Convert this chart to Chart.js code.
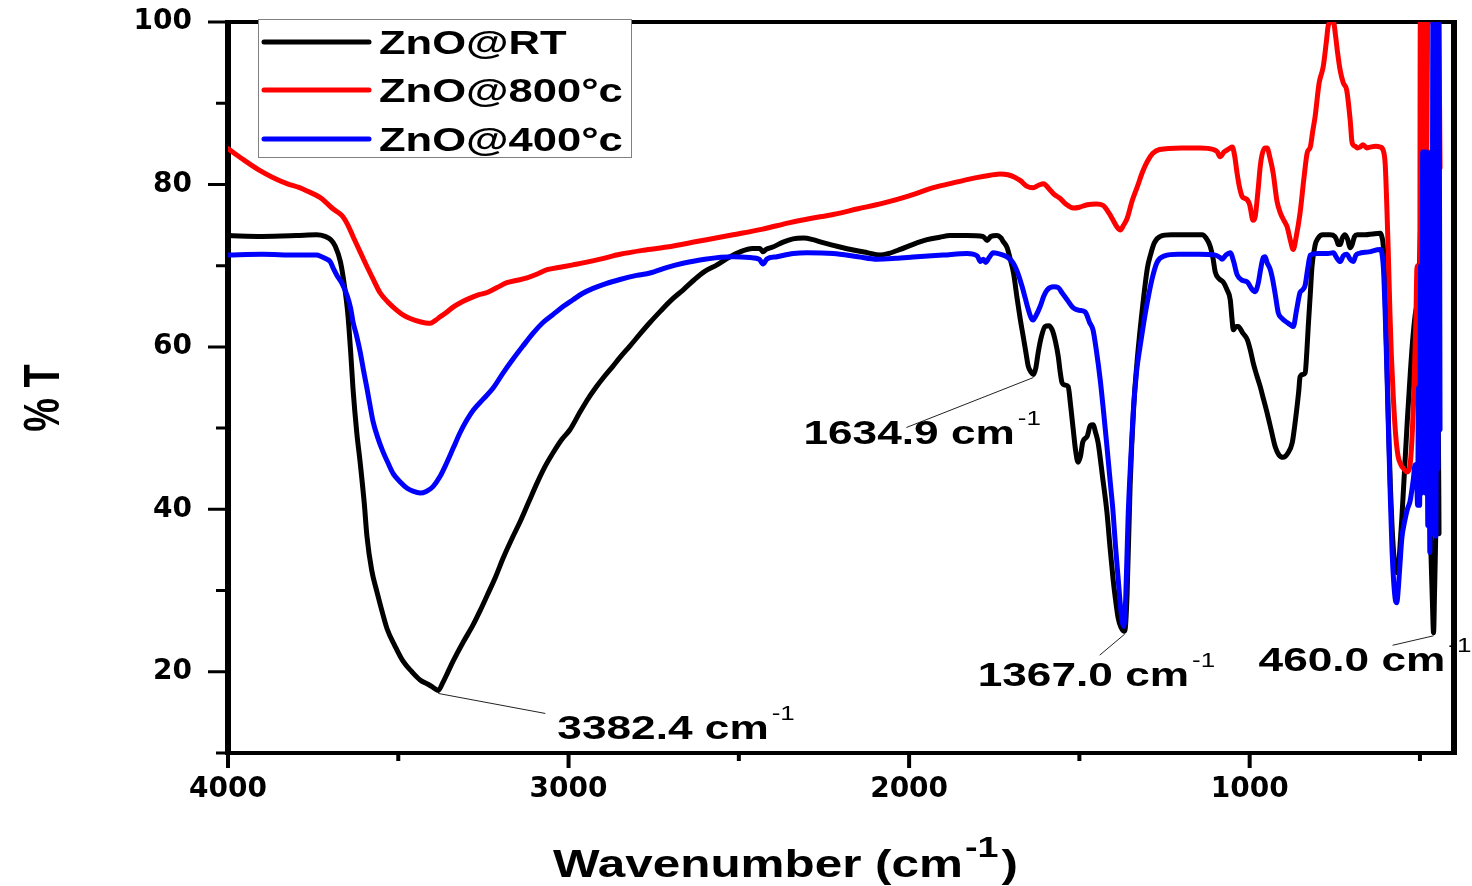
<!DOCTYPE html>
<html>
<head>
<meta charset="utf-8">
<title>FTIR spectra of ZnO</title>
<script src="https://cdn.jsdelivr.net/npm/chart.js@4.4.1/dist/chart.umd.min.js"></script>
<style>
  html, body { margin: 0; padding: 0; background: #ffffff; }
  canvas { display: block; }
</style>
</head>
<body>
<canvas id="ftir" width="1472" height="886"></canvas>
<script>
// ---- Spectra: [wavenumber (cm-1), transmittance (%)] ----
const rtSpectrum = [
  [4000,73.7],[3900,73.6],[3800,73.7],[3740,73.8],[3715,73.6],[3698,73.2],[3685,72.4],[3670,70.5],[3658,67.5],[3648,64.0],
  [3640,59.5],[3633,54.9],[3622,49.5],[3612,45.8],[3600,40.8],[3592,36.7],[3578,32.5],[3563,29.9],[3548,27.5],[3533,25.3],
  [3510,23.2],[3486,21.3],[3460,20.0],[3436,19.0],[3410,18.4],[3395,18.0],[3382.4,17.7],[3370,18.6],[3355,19.9],[3339,21.3],
  [3310,23.6],[3280,25.8],[3260,27.5],[3239,29.4],[3215,31.6],[3192,34.0],[3165,36.5],[3142,38.5],[3118,40.8],[3093,43.2],
  [3070,45.2],[3045,47.0],[3020,48.6],[2996,49.8],[2970,51.7],[2946,53.4],[2920,55.0],[2898,56.2],[2870,57.6],[2849,58.7],
  [2820,60.1],[2790,61.6],[2761,63.0],[2730,64.4],[2700,65.7],[2664,67.0],[2630,68.3],[2600,69.3],[2564,70.1],[2530,71.0],
  [2496,71.7],[2460,72.1],[2438,72.1],[2429,71.7],[2420,72.0],[2400,72.3],[2370,72.9],[2341,73.3],[2310,73.4],[2282,73.2],
  [2250,72.8],[2203,72.3],[2160,71.9],[2123,71.6],[2085,71.3],[2060,71.5],[2026,72.0],[1990,72.6],[1947,73.2],[1910,73.5],
  [1880,73.7],[1830,73.7],[1783,73.6],[1771,73.1],[1760,73.6],[1742,73.7],[1730,73.4],[1724,73.0],[1712,72.2],[1703,70.8],
  [1693,69.0],[1683,66.0],[1674,63.5],[1665,61.3],[1657,59.3],[1650,57.6],[1642,56.9],[1634.9,56.6],[1628,57.4],[1621,59.3],
  [1612,61.2],[1601,62.5],[1590,62.6],[1580,62.1],[1570,60.6],[1562,58.8],[1556,56.8],[1551,55.6],[1542,55.3],[1533,55.1],
  [1525,52.5],[1518,49.8],[1511,47.2],[1504,45.8],[1497,46.5],[1490,48.3],[1477,49.0],[1468,50.3],[1460,50.4],[1452,49.4],
  [1445,48.2],[1432,44.0],[1419,39.6],[1410,35.3],[1401,31.4],[1393,28.6],[1386,26.6],[1378,25.5],[1367.0,25.0],[1360,29.5],
  [1351,43.0],[1340,53.0],[1330,58.5],[1313,65.5],[1300,69.8],[1292,71.2],[1280,72.8],[1263,73.6],[1230,73.8],[1200,73.8],
  [1160,73.8],[1140,73.8],[1128,73.4],[1116,72.4],[1108,71.0],[1101,69.2],[1090,68.4],[1078,68.0],[1066,67.0],[1057,65.8],
  [1052,63.5],[1048,62.1],[1040,62.5],[1034,62.5],[1020,61.7],[1007,60.9],[998,59.6],[990,58.1],[980,56.6],[969,55.1],
  [959,53.5],[949,51.9],[937,49.8],[925,47.7],[914,46.7],[902,46.4],[888,46.9],[875,48.2],[868,50.2],[861,52.6],
  [856,54.5],[852,56.3],[844,56.6],[837,56.8],[832,59.5],[828,62.5],[822,66.5],[817,69.9],[808,72.5],[799,73.4],
  [785,73.8],[764,73.8],[750,73.6],[743,73.0],[740,72.6],[734,72.6],[728,73.4],[720,73.8],[712,73.2],[705,72.2],
  [699,72.6],[692,73.6],[684,73.8],[660,73.8],[640,73.9],[617,74.0],[612,73.6],[607,72.0],[602,66.0],[597,58.0],
  [592,50.0],[587,43.0],[582,38.0],[576,34.0],[570,32.4],[565,32.2],[560,34.5],[553,39.0],[545,45.0],[537,51.0],
  [528,57.0],[520,61.5],[512,64.5],[505,66.0],[498,75.0],[492,85.0],[486,70.0],[480,60.0],[474,45.0],[468,35.0],
  [463,28.0],[460.0,24.8],[457,30.0],[453,38.0],[449,45.0],[446,49.8],[444,37.0]
];

const c800Spectrum = [
  [4000,84.4],[3960,83.2],[3906,81.7],[3870,80.9],[3827,80.1],[3790,79.6],[3768,79.2],[3730,78.4],[3710,77.7],[3692,77.0],
  [3675,76.5],[3662,76.0],[3648,75.0],[3633,73.6],[3612,71.7],[3592,69.9],[3572,68.2],[3554,66.7],[3530,65.5],[3504,64.5],
  [3485,63.9],[3465,63.5],[3436,63.1],[3407,62.9],[3390,63.3],[3377,63.7],[3360,64.2],[3339,64.9],[3315,65.5],[3289,66.0],
  [3265,66.4],[3239,66.7],[3210,67.3],[3181,67.9],[3150,68.2],[3122,68.5],[3090,69.0],[3063,69.5],[3025,69.8],[2987,70.1],
  [2950,70.4],[2907,70.8],[2849,71.4],[2780,71.9],[2711,72.3],[2620,73.0],[2517,73.8],[2430,74.5],[2350,75.3],[2290,75.8],
  [2223,76.3],[2150,77.0],[2076,77.7],[2000,78.6],[1929,79.6],[1880,80.1],[1830,80.6],[1780,81.0],[1733,81.3],[1710,81.2],
  [1690,80.9],[1674,80.5],[1655,79.8],[1636,79.6],[1620,79.9],[1605,80.1],[1590,79.5],[1575,78.8],[1557,78.3],[1540,77.6],
  [1518,77.1],[1500,77.2],[1477,77.5],[1450,77.6],[1430,77.4],[1412,76.4],[1401,75.6],[1390,74.8],[1380,74.4],[1370,75.0],
  [1360,75.8],[1345,78.0],[1330,79.7],[1315,81.5],[1301,82.8],[1285,83.8],[1265,84.3],[1200,84.5],[1145,84.5],[1107,84.3],
  [1095,84.0],[1087,83.4],[1075,84.0],[1060,84.4],[1051,84.6],[1044,83.5],[1037,81.4],[1030,79.7],[1022,78.5],[1015,78.3],
  [1007,78.1],[1000,77.5],[990,75.6],[984,76.0],[976,79.0],[969,82.2],[964,83.6],[955,84.5],[949,84.5],[940,83.2],
  [931,81.4],[920,78.0],[910,76.5],[900,75.6],[890,74.8],[881,73.2],[872,72.0],[864,73.4],[852,76.5],[840,81.0],
  [831,83.9],[822,84.6],[815,86.5],[808,88.3],[796,92.5],[784,94.5],[775,97.5],[769,99.6],[760,100],[754,100],
  [748,98.4],[743,96.6],[734,94.0],[725,92.5],[715,91.6],[705,88.0],[699,85.1],[690,84.7],[684,84.5],[676,84.6],
  [667,84.9],[656,84.5],[646,84.6],[630,84.7],[617,84.6],[608,84.2],[602,82.5],[597,77.0],[593,71.7],[588,64.0],
  [584,59.0],[578,53.6],[571,49.0],[564,46.5],[556,45.5],[548,45.0],[538,44.6],[530,45.2],[523,49.0],[517,56.0],
  [512,63.0],[509,69.6],[507,70.0],[505,55.0],[503,41.0],[501,48.0],[499,100],[495,100],[492,80],[489,100],
  [486,82],[483,100],[480,84],[477,100],[474,100],[470,100],[462,100],[452,100],[445,100],[441,82]
];

const c400Spectrum = [
  [4000,71.3],[3900,71.4],[3800,71.3],[3740,71.3],[3725,71.1],[3710,70.8],[3700,70.5],[3690,69.6],[3680,68.8],[3665,67.8],
  [3650,66.3],[3640,64.8],[3633,63.1],[3622,61.3],[3612,59.4],[3602,57.1],[3592,54.9],[3583,52.8],[3574,50.8],[3560,48.8],
  [3545,47.1],[3530,45.7],[3515,44.4],[3495,43.4],[3474,42.6],[3455,42.2],[3436,42.0],[3418,42.2],[3398,42.8],[3378,44.0],
  [3357,45.8],[3338,47.6],[3319,49.4],[3300,50.9],[3280,52.2],[3250,53.6],[3222,54.9],[3192,56.8],[3163,58.5],[3134,60.1],
  [3104,61.7],[3075,63.0],[3045,64.0],[3015,65.0],[2987,65.8],[2958,66.6],[2928,67.2],[2890,67.8],[2849,68.3],[2800,68.8],
  [2761,69.1],[2710,69.8],[2664,70.3],[2600,70.8],[2517,71.1],[2467,71.0],[2440,70.8],[2429,70.2],[2418,70.8],[2388,71.1],
  [2340,71.5],[2300,71.6],[2223,71.5],[2150,71.1],[2094,70.8],[2040,70.9],[1977,71.1],[1900,71.3],[1830,71.5],[1800,71.2],
  [1791,70.5],[1782,70.8],[1775,70.4],[1765,71.0],[1753,71.6],[1724,71.3],[1710,71.0],[1694,70.3],[1680,69.0],[1668,67.4],
  [1659,66.0],[1650,64.6],[1642,63.6],[1636,63.3],[1628,63.8],[1615,65.0],[1605,66.2],[1595,67.0],[1575,67.4],[1562,67.3],
  [1550,66.6],[1536,65.8],[1518,64.8],[1500,64.5],[1483,64.3],[1470,63.0],[1460,62.1],[1450,59.5],[1439,56.0],[1429,52.0],
  [1419,47.7],[1410,43.6],[1401,39.6],[1394,35.5],[1386,31.4],[1378,27.5],[1370,25.6],[1364,29.0],[1357,39.0],[1350,45.5],
  [1342,51.9],[1332,57.0],[1322,60.0],[1311,63.0],[1301,65.4],[1287,68.3],[1272,70.4],[1250,71.2],[1210,71.4],[1150,71.4],
  [1100,71.3],[1087,71.0],[1081,70.8],[1070,71.3],[1057,71.6],[1047,70.5],[1037,68.9],[1022,68.2],[1007,68.0],[995,67.2],
  [984,66.8],[975,67.8],[968,69.5],[960,71.0],[955,71.1],[948,70.3],[940,69.6],[934,68.6],[925,66.5],[916,64.2],
  [905,63.5],[890,63.0],[880,62.7],[872,62.5],[862,64.6],[852,66.7],[845,67.0],[837,67.6],[830,69.5],[822,71.3],
  [800,71.5],[770,71.5],[754,71.6],[745,71.0],[734,70.5],[725,71.2],[715,71.4],[705,70.8],[696,70.5],[688,71.3],
  [680,71.5],[650,71.7],[617,72.0],[612,71.6],[607,69.5],[602,64.0],[597,57.0],[592,49.0],[587,41.5],[582,35.0],
  [577,31.0],[572,28.8],[568,28.5],[564,30.0],[559,33.0],[553,36.5],[545,38.5],[537,40.0],[529,41.0],[520,43.5],
  [514,45.5],[510,44.9],[507,40.5],[504,55],[501,40.5],[498,70],[495,42],[492,84],[489,45],[486,84],
  [483,42],[480,84],[477,38],[474,80],[471,34.7],[468,84],[465,37],[462,100],[459,40],[456,100],
  [453,36.7],[450,100],[447,45],[444,100],[441,49.8]
];

const seriesLabels = ['ZnO@RT', 'ZnO@800\u00B0c', 'ZnO@400\u00B0c'];
const seriesColors = ['#000000', '#ff0000', '#0000ff'];
const xTickValues = [4000, 3000, 2000, 1000];
const xMinorTicks = [3500, 2500, 1500, 500];
const yTickValues = [20, 40, 60, 80, 100];
const yMinorTicks = [10, 30, 50, 70, 90];
const peakWavenumbers = [3382.4, 1634.9, 1367.0, 460.0];

// ---- drawing helpers ----
const FACE = "'Liberation Sans', Arial, sans-serif";
const WIDE = 1.3; // horizontal stretch of the lettering

function wideText(ctx, text, x, y, size, weight) {
  ctx.save();
  ctx.font = `${weight} ${size}px ${FACE}`;
  ctx.textAlign = 'left';
  ctx.textBaseline = 'alphabetic';
  ctx.translate(x, y);
  ctx.scale(WIDE, 1);
  ctx.fillText(text, 0, 0);
  const w = ctx.measureText(text).width * WIDE;
  ctx.restore();
  return w;
}

function toPoints(pairs) {
  return pairs.map(([x, y]) => ({ x, y }));
}

// leader line end and label placement, in pixels relative to each marked minimum
const notePlacement = {
  '3382.4': { lead: [107, 23], text: [119, 49] },
  '1634.9': { lead: [-127, 53], text: [-230, 69] },
  '1367.0': { lead: [-25, 24], text: [-147, 55] },
  '460.0':  { lead: [-41, 12.5], text: [-175, 38.5] }
};

const spectrumDecor = {
  id: 'spectrumDecor',
  beforeDatasetsDraw(chart) {
    const { ctx, chartArea: a, scales: { x, y } } = chart;
    ctx.save();
    ctx.fillStyle = '#000';

    // peak annotations on the RT spectrum
    peakWavenumbers.forEach((wn) => {
      const pt = rtSpectrum.find((p) => p[0] === wn);
      const px = x.getPixelForValue(pt[0]);
      const py = y.getPixelForValue(pt[1]);
      const key = wn.toFixed(1);
      const place = notePlacement[key];
      ctx.strokeStyle = '#222';
      ctx.lineWidth = 1;
      ctx.beginPath();
      ctx.moveTo(px, py + 3);
      ctx.lineTo(px + place.lead[0], py + place.lead[1]);
      ctx.stroke();
      const tx = px + place.text[0];
      const ty = py + place.text[1];
      const w = wideText(ctx, key + ' cm', tx, ty, 34, 'bold');
      wideText(ctx, '-1', tx + w + 3, ty - 19, 20, 'normal');
    });

    // plot frame
    ctx.strokeStyle = '#000';
    ctx.lineCap = 'butt';
    ctx.lineWidth = 6;
    ctx.beginPath();
    ctx.moveTo(a.left, a.top - 2); ctx.lineTo(a.left, a.bottom + 2);
    ctx.moveTo(a.right, a.top - 2); ctx.lineTo(a.right, a.bottom + 2);
    ctx.stroke();
    ctx.lineWidth = 4;
    ctx.beginPath();
    ctx.moveTo(a.left - 3, a.top); ctx.lineTo(a.right + 3, a.top);
    ctx.moveTo(a.left - 3, a.bottom); ctx.lineTo(a.right + 3, a.bottom);
    ctx.stroke();

    // outward tick marks
    ctx.lineWidth = 4;
    ctx.beginPath();
    xTickValues.concat(xMinorTicks).forEach((v) => {
      const px = x.getPixelForValue(v);
      const len = xTickValues.includes(v) ? 15 : 8;
      ctx.moveTo(px, a.bottom); ctx.lineTo(px, a.bottom + len);
    });
    ctx.stroke();
    ctx.lineWidth = 3;
    ctx.beginPath();
    yTickValues.concat(yMinorTicks).forEach((v) => {
      const py = y.getPixelForValue(v);
      const len = yTickValues.includes(v) ? 20 : 12;
      ctx.moveTo(a.left, py); ctx.lineTo(a.left - len, py);
    });
    ctx.stroke();
    ctx.restore();
  },
  afterDraw(chart) {
    const { ctx } = chart;
    ctx.save();

    // legend box
    ctx.fillStyle = '#ffffff';
    ctx.fillRect(258.5, 19.5, 373, 138);
    ctx.strokeStyle = '#808080';
    ctx.lineWidth = 1;
    ctx.strokeRect(258.5, 19.5, 373, 138);
    const rowY = [42, 90, 139];
    chart.data.datasets.forEach((ds, i) => {
      ctx.strokeStyle = ds.borderColor;
      ctx.lineWidth = 5;
      ctx.lineCap = 'round';
      ctx.beginPath();
      ctx.moveTo(264, rowY[i]);
      ctx.lineTo(369, rowY[i]);
      ctx.stroke();
      ctx.fillStyle = '#000';
      wideText(ctx, ds.label, 379, rowY[i] + 11.5, 33.5, 'bold');
    });

    // x axis title with superscript
    ctx.fillStyle = '#000';
    let cx = 553;
    cx += wideText(ctx, 'Wavenumber (cm', cx, 877, 38, 'bold');
    cx += 2;
    cx += wideText(ctx, '-1', cx, 857, 29, 'bold');
    cx += 3;
    wideText(ctx, ')', cx, 877, 38, 'bold');

    // y axis title, rotated
    ctx.save();
    ctx.translate(45, 398);
    ctx.rotate(-Math.PI / 2);
    ctx.scale(1, WIDE);
    ctx.font = `bold 38px ${FACE}`;
    ctx.textAlign = 'center';
    ctx.textBaseline = 'middle';
    ctx.fillText('% T', 0, 0);
    ctx.restore();

    ctx.restore();
  }
};

const tickFont = { family: "'DejaVu Sans', sans-serif", size: 28, weight: 'bold' };

function fixBox(size, isHorizontal) {
  return (scale) => {
    if (isHorizontal) scale.height = size; else scale.width = size;
    scale.paddingTop = 0;
    scale.paddingBottom = 0;
    scale.paddingLeft = 0;
    scale.paddingRight = 0;
  };
}

new Chart(document.getElementById('ftir'), {
  type: 'line',
  data: {
    datasets: [
      { label: seriesLabels[0], data: toPoints(rtSpectrum), borderColor: seriesColors[0], order: 2 },
      { label: seriesLabels[1], data: toPoints(c800Spectrum), borderColor: seriesColors[1], order: 1 },
      { label: seriesLabels[2], data: toPoints(c400Spectrum), borderColor: seriesColors[2], order: 0 }
    ]
  },
  options: {
    responsive: false,
    animation: false,
    devicePixelRatio: 1,
    events: [],
    layout: { padding: { left: 0, right: 18, top: 22, bottom: 0 } },
    elements: {
      line: { borderWidth: 5, cubicInterpolationMode: 'monotone', borderJoinStyle: 'round', borderCapStyle: 'round', fill: false },
      point: { radius: 0, hoverRadius: 0 }
    },
    plugins: { legend: { display: false }, tooltip: { enabled: false } },
    scales: {
      x: {
        type: 'linear',
        reverse: true,
        min: 400,
        max: 4000,
        afterBuildTicks(scale) { scale.ticks = xTickValues.map((v) => ({ value: v })); },
        afterFit: fixBox(133, true),
        grid: { display: false, drawTicks: false },
        border: { display: false },
        ticks: {
          autoSkip: false,
          maxRotation: 0,
          padding: 20,
          color: '#000',
          font: tickFont,
          callback: (v) => String(v)
        }
      },
      y: {
        min: 10,
        max: 100,
        afterBuildTicks(scale) { scale.ticks = yTickValues.map((v) => ({ value: v })); },
        afterFit: fixBox(228, false),
        grid: { display: false, drawTicks: false },
        border: { display: false },
        ticks: {
          padding: 36,
          color: '#000',
          font: tickFont,
          callback: (v) => String(v)
        }
      }
    }
  },
  plugins: [spectrumDecor]
});
</script>
</body>
</html>
